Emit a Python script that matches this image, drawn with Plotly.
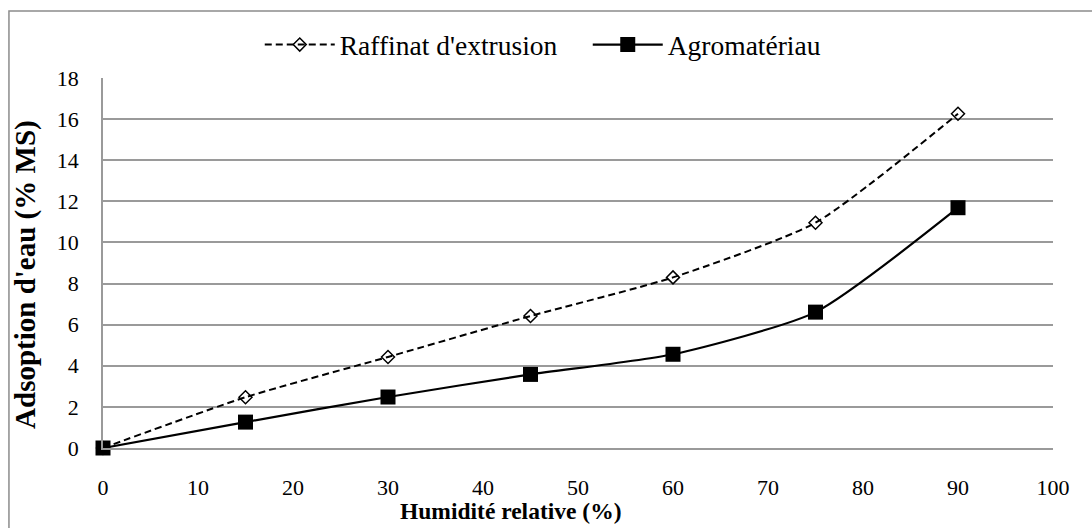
import plotly.graph_objects as go

# Relative humidity (%) and water uptake (% dry matter)
humidite = [0, 15, 30, 45, 60, 75, 90]
raffinat = [0, 2.47, 4.43, 6.42, 8.3, 10.96, 16.26]
agromateriau = [0, 1.26, 2.48, 3.58, 4.56, 6.61, 11.69]

x_ticks = list(range(0, 101, 10))
y_ticks = list(range(0, 19, 2))

FONT = "Liberation Serif"
GRID = "#9a9a9a"

fig = go.Figure()
fig.add_trace(go.Scatter(
    x=humidite, y=raffinat, name="Raffinat d'extrusion",
    mode="lines+markers", cliponaxis=False,
    line=dict(color="black", width=2, dash="7px,4px", shape="spline", smoothing=0.6),
    marker=dict(symbol="diamond-open", size=10, color="black", line=dict(width=1.5)),
))
fig.add_trace(go.Scatter(
    x=humidite, y=agromateriau, name="Agromatériau",
    mode="lines+markers", cliponaxis=False,
    line=dict(color="black", width=2.2, shape="spline", smoothing=0.6),
    marker=dict(symbol="square", size=15, color="black"),
))

fig.update_layout(
    width=1092, height=528,
    margin=dict(l=103, r=39, t=78, b=80),
    paper_bgcolor="white", plot_bgcolor="white",
    font=dict(family=FONT, size=22, color="black"),
    showlegend=True,
    legend=dict(orientation="h", x=0.165, xanchor="left", y=1.09, yanchor="middle",
                itemwidth=70, entrywidth=243, font=dict(family=FONT, size=27.5),
                bgcolor="rgba(0,0,0,0)"),
    shapes=[dict(type="rect", xref="paper", yref="paper",
                 x0=-0.099, x1=1.2, y0=-0.3, y1=1.181,
                 line=dict(color="#8c8c8c", width=1.5), fillcolor="rgba(0,0,0,0)",
                 layer="below")],
    annotations=[
        dict(text="<b>Humidité relative (%)</b>", xref="paper", yref="paper",
             x=0.429, y=-0.17, xanchor="center", yanchor="middle", showarrow=False,
             font=dict(family=FONT, size=23.5)),
        dict(text="<b>Adsoption d'eau (% MS)</b>", xref="paper", yref="paper",
             x=-0.081, y=0.468, xanchor="center", yanchor="middle", showarrow=False,
             textangle=-90, font=dict(family=FONT, size=29)),
    ],
)

fig.update_xaxes(
    range=[0, 100], tickvals=x_ticks, showgrid=False,
    showline=True, linecolor=GRID, linewidth=1.5,
    ticks="outside", ticklen=0, ticklabelstandoff=19,
    tickfont=dict(family=FONT, size=22),
    zeroline=False,
)
fig.update_yaxes(
    range=[0, 18], tickvals=y_ticks, showgrid=True, gridcolor=GRID, gridwidth=1.5,
    showline=True, linecolor=GRID, linewidth=1.5,
    ticks="outside", ticklen=0, ticklabelstandoff=18,
    tickfont=dict(family=FONT, size=22),
    zeroline=False,
)

fig.write_html("out.html")
